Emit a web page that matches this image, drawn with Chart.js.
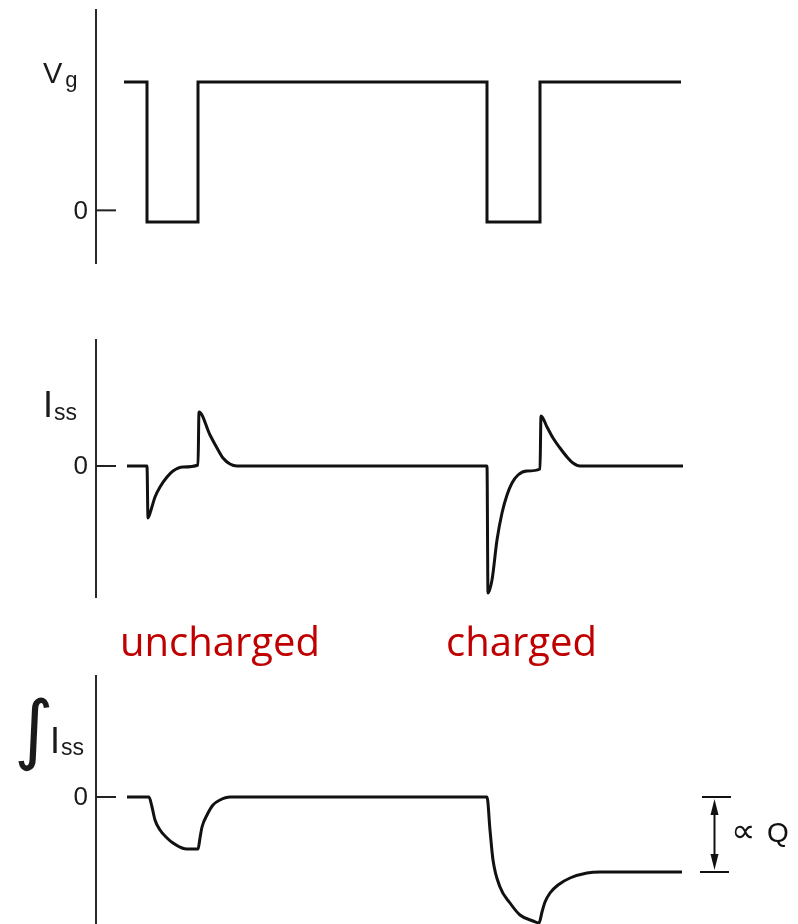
<!DOCTYPE html>
<html>
<head>
<meta charset="utf-8">
<script src="https://cdn.jsdelivr.net/npm/chart.js@4.4.1/dist/chart.umd.min.js"></script>
<style>
  html, body { margin: 0; padding: 0; background: #fff; overflow: hidden; }
  body { width: 798px; height: 924px; position: relative; }
  canvas { position: absolute; left: 0; }
  .tag {
    position: absolute;
    font-family: "Open Sans", "Noto Sans", sans-serif;
    font-size: 40px;
    color: #c00000;
    white-space: nowrap;
    line-height: 1;
  }
</style>
</head>
<body>
<canvas id="vg" width="798" height="280" style="top:0px"></canvas>
<canvas id="iss" width="798" height="280" style="top:330px"></canvas>
<canvas id="integ" width="798" height="280" style="top:660px"></canvas>
<div class="tag" style="left:120px; top:621px">uncharged</div>
<div class="tag" style="left:446px; top:621px">charged</div>

<script>
// gate voltage: two low pulses (arbitrary time units)
const vgTime  = [5.6, 10.2, 10.2, 20.4, 20.4, 78.2, 78.2, 88.8, 88.8, 117];
const vgLevel = [1, 1, -0.09, -0.09, 1, 1, -0.09, -0.09, 1, 1];

// substrate current transients
const issTime = [6.2, 10.2, 10.4, 11.0, 11.8, 12.8, 14.2, 15.4, 17.4, 20.4,
                 20.6, 22.8, 24.2, 25.4, 26.8, 28.2,
                 78.2, 78.4, 79.2, 80.2, 81.2, 82.2, 83.2, 84.4, 86.2, 88.8,
                 89.0, 90.2, 91.4, 92.8, 94.2, 95.4, 96.8, 117.4];
const issValue = [0, 0, -5.2, -4.4, -3.1, -2.1, -1.1, -0.5, -0.1, 0.1,
                  5.4, 3.1, 1.8, 0.8, 0.2, 0,
                  0, -12.7, -11.4, -7.4, -4.7, -2.9, -1.7, -0.9, -0.5, -0.3,
                  5.0, 3.9, 2.8, 1.8, 0.9, 0.3, 0, 0];

// integrated current
const intTime  = [6.2, 10.6, 11.2, 11.8, 12.8, 14.2, 15.4, 17.2, 18.2, 20.4,
                  20.8, 21.2, 22.2, 23.4, 24.8, 26.8,
                  78.2, 78.8, 79.4, 80.8, 82.8, 84.8, 87.4, 88.6,
                  89.2, 89.8, 90.8, 92.4, 94.8, 98.2, 100.8, 117.2];
const intValue = [0, 0, -1.0, -2.3, -3.3, -4.1, -4.6, -5.1, -5.2, -5.2,
                  -4.1, -3.0, -1.8, -0.8, -0.3, 0,
                  0, -3.3, -6.3, -9.0, -10.6, -11.8, -12.4, -12.6,
                  -11.5, -10.5, -9.6, -8.8, -8.1, -7.6, -7.5, -7.5];

const zeroTick = 0;
const zeroLabel = '0';

function toPoints(xs, ys) {
  return xs.map((x, i) => ({ x: x, y: ys[i] }));
}

// zero tick (pointing into the plot), its label, and the axis name
const axisDecor = {
  id: 'axisDecor',
  afterDraw(chart, args, opts) {
    const ctx = chart.ctx;
    const y = chart.scales.y;
    const left = chart.chartArea.left;
    const y0 = y.getPixelForValue(zeroTick);
    ctx.save();
    ctx.strokeStyle = '#222';
    ctx.lineWidth = 2;
    ctx.beginPath();
    ctx.moveTo(left, y0);
    ctx.lineTo(left + 20, y0);
    ctx.stroke();

    ctx.fillStyle = '#1a1a1a';
    ctx.font = '26px "Liberation Sans"';
    ctx.textAlign = 'right';
    ctx.textBaseline = 'middle';
    ctx.fillText(zeroLabel, left - 8, y0 + 1);

    ctx.textAlign = 'left';
    ctx.textBaseline = 'alphabetic';
    const by = y.getPixelForValue(opts.at);
    let x = left - opts.dx;
    if (opts.integral) {
      ctx.font = '76px "DejaVu Sans"';
      ctx.fillText('\u222B', 14, by + 2);
    }
    ctx.font = opts.size + 'px "Liberation Sans"';
    ctx.fillText(opts.main, x, by);
    x += ctx.measureText(opts.main).width + opts.gap;
    ctx.font = opts.subSize + 'px "Liberation Sans"';
    ctx.fillText(opts.sub, x, by + opts.drop);
    ctx.restore();
  }
};

// dimension bracket between the zero line and the final level
const chargeBracket = {
  id: 'chargeBracket',
  afterDraw(chart, args, opts) {
    if (!opts.show) return;
    const ctx = chart.ctx;
    const xs = chart.scales.x, ys = chart.scales.y;
    const yTop = ys.getPixelForValue(opts.from);
    const yBot = ys.getPixelForValue(opts.to);
    const xa = xs.getPixelForValue(opts.x0);
    const xb = xs.getPixelForValue(opts.x1);
    const xm = (xa + xb) / 2;
    const ym = (yTop + yBot) / 2;
    ctx.save();
    ctx.strokeStyle = '#111';
    ctx.fillStyle = '#111';
    ctx.lineWidth = 2;
    ctx.beginPath();
    ctx.moveTo(xa + 2, yTop); ctx.lineTo(xb + 2, yTop);
    ctx.moveTo(xa, yBot); ctx.lineTo(xb, yBot);
    ctx.moveTo(xm, yTop + 12); ctx.lineTo(xm, yBot - 12);
    ctx.stroke();
    ctx.beginPath();
    ctx.moveTo(xm, yTop + 2); ctx.lineTo(xm - 4, yTop + 18); ctx.lineTo(xm + 4, yTop + 18);
    ctx.closePath();
    ctx.moveTo(xm, yBot - 2); ctx.lineTo(xm - 4, yBot - 18); ctx.lineTo(xm + 4, yBot - 18);
    ctx.closePath();
    ctx.fill();
    ctx.textBaseline = 'middle';
    ctx.font = '34px "DejaVu Sans"';
    ctx.fillText('\u221D', xb + 2, ym - 1);
    ctx.font = '28px "Liberation Sans"';
    ctx.fillText('Q', xb + 38, ym);
    ctx.restore();
  }
};

function makePanel(id, xs, ys, yMin, yMax, pad, decor, bracket) {
  return new Chart(document.getElementById(id).getContext('2d'), {
    type: 'line',
    data: {
      datasets: [{
        data: toPoints(xs, ys),
        borderColor: '#111',
        borderWidth: 3,
        pointRadius: 0,
        fill: false,
        cubicInterpolationMode: id === 'vg' ? 'default' : 'monotone',
        tension: 0,
        clip: false
      }]
    },
    options: {
      responsive: false,
      animation: false,
      events: [],
      layout: { padding: { top: pad[0], bottom: pad[1], left: 0, right: 2 } },
      plugins: {
        legend: { display: false },
        tooltip: { enabled: false },
        axisDecor: decor,
        chargeBracket: bracket || { show: false }
      },
      scales: {
        x: { type: 'linear', min: 0, max: 140, display: false },
        y: {
          type: 'linear',
          min: yMin,
          max: yMax,
          afterFit: s => { s.width = 96; },
          grid: { display: false, drawTicks: false },
          border: { display: true, color: '#2a2a2a', width: 2 },
          ticks: { display: false }
        }
      }
    },
    plugins: [axisDecor, chargeBracket]
  });
}

makePanel('vg', vgTime, vgLevel, -0.41, 1.56, [10, 17],
  { main: 'V', sub: 'g', at: 0.993, dx: 53, size: 29, subSize: 22, gap: 3, drop: 4 });

makePanel('iss', issTime, issValue, -13.1, 12.6, [10, 13],
  { main: 'I', sub: 'ss', at: 4.9, dx: 53, size: 36, subSize: 23, gap: 1, drop: 3 });

makePanel('integ', intTime, intValue, -14.3, 12.1, [16, 0],
  { main: 'I', sub: 'ss', at: 4.4, dx: 46, size: 36, subSize: 23, gap: 1, drop: 2, integral: true },
  { show: true, from: 0, to: intValue[intValue.length - 1], x0: 120.8, x1: 126.6 });
</script>
</body>
</html>
